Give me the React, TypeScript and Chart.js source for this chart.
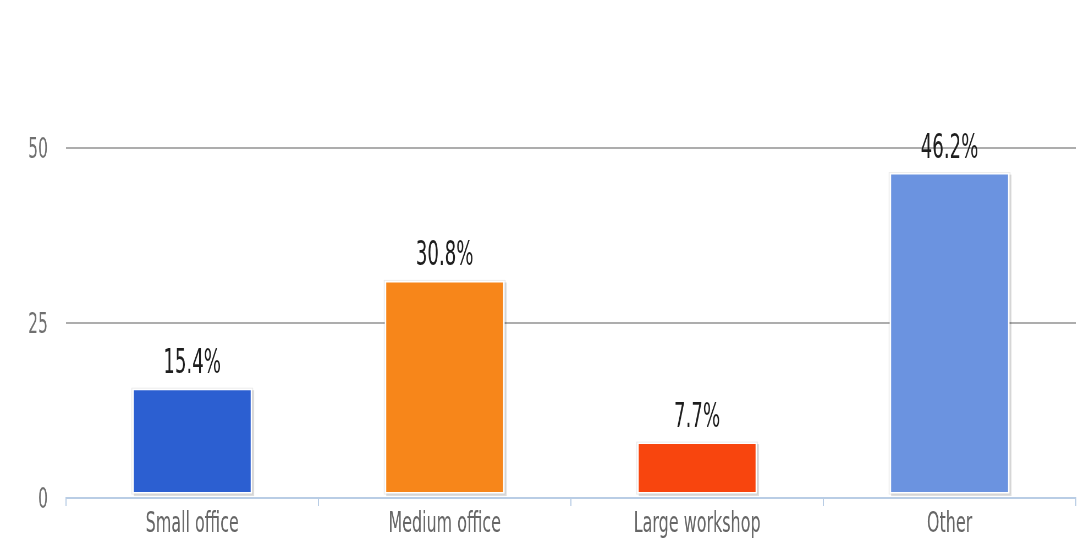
import React, { useEffect, useRef } from "react";
import { Chart, registerables } from "chart.js";

Chart.register(...registerables);

const categories = ["Small office", "Medium office", "Large workshop", "Other"];
const shares = [15.4, 30.8, 7.7, 46.2];
const barColors = ["#2c5fd1", "#f7861a", "#f8450e", "#6b93e0"];
const yTicks = [0, 25, 50];

const CSS_W = 1078;
const CSS_H = 560;
const SQUEEZE = 0.55;
const W = Math.round(CSS_W / SQUEEZE);
const DX = 1 / SQUEEZE;

const FONT = "'DejaVu Sans', sans-serif";

const barDecor = {
  id: "barDecor",
  beforeDatasetsDraw(chart: any) {
    const ctx = chart.ctx;
    const meta = chart.getDatasetMeta(0);
    ctx.save();
    meta.data.forEach((bar: any) => {
      const { x, y, base, width } = bar.getProps(["x", "y", "base", "width"], true);
      const l = x - width / 2;
      const r = x + width / 2;
      // soft outline
      ctx.fillStyle = "rgba(0,0,0,0.08)";
      ctx.fillRect(l - 2.5 * DX, y - 2.5, r - l + 5 * DX, base - y + 5);
      // drop shadow right / bottom
      ctx.fillStyle = "rgba(0,0,0,0.13)";
      ctx.fillRect(l, y, r - l + 3.5 * DX, base - y + 4);
      // white frame
      ctx.fillStyle = "#ffffff";
      ctx.fillRect(l - 1.5 * DX, y - 1.5, r - l + 3 * DX, base - y + 3);
    });
    ctx.restore();
  },
  afterDatasetsDraw(chart: any) {
    const ctx = chart.ctx;
    const meta = chart.getDatasetMeta(0);
    ctx.save();
    ctx.fillStyle = "#1e1e1e";
    ctx.font = `33px ${FONT}`;
    ctx.textAlign = "center";
    ctx.textBaseline = "alphabetic";
    meta.data.forEach((bar: any, i: number) => {
      const { x, y } = bar.getProps(["x", "y"], true);
      ctx.fillText(`${shares[i]}%`, x, y - 17);
    });
    ctx.restore();
  },
};

export default function App() {
  const ref = useRef<HTMLCanvasElement>(null);

  useEffect(() => {
    document.body.style.margin = "0";
    const canvas = ref.current;
    if (!canvas) return;
    const chart = new Chart(canvas, {
      type: "bar",
      data: {
        labels: categories,
        datasets: [
          {
            data: shares,
            base: 0.85,
            backgroundColor: barColors,
            borderWidth: 0,
            barPercentage: 0.463,
            categoryPercentage: 1,
          },
        ],
      },
      options: {
        responsive: false,
        devicePixelRatio: 1,
        animation: false,
        layout: { padding: { top: 148, right: 4, left: 0, bottom: 0 } },
        plugins: { legend: { display: false }, tooltip: { enabled: false } },
        scales: {
          x: {
            z: 1,
            afterFit: (s: any) => {
              s.height = 62;
            },
            border: { display: true, color: "#b9cde5", width: 2 },
            grid: {
              display: true,
              drawOnChartArea: false,
              drawTicks: true,
              tickLength: 8,
              color: "#b9cde5",
              lineWidth: 2,
              offset: true,
            },
            ticks: {
              padding: 1,
              color: "#666",
              font: { family: FONT, size: 29 },
              maxRotation: 0,
              autoSkip: false,
            },
          },
          y: {
            min: 0,
            max: 50,
            afterFit: (s: any) => {
              s.width = 120;
            },
            afterBuildTicks: (s: any) => {
              s.ticks = yTicks.map((v) => ({ value: v }));
            },
            border: { display: false },
            grid: { color: "#adadad", lineWidth: 2, drawTicks: false },
            ticks: {
              padding: 33,
              labelOffset: 3,
              color: "#707070",
              font: { family: FONT, size: 28 },
            },
          },
        },
      },
      plugins: [barDecor],
    } as any);
    return () => chart.destroy();
  }, []);

  return (
    <canvas
      ref={ref}
      width={W}
      height={CSS_H}
      style={{ width: `${CSS_W}px`, height: `${CSS_H}px`, display: "block" }}
    />
  );
}
